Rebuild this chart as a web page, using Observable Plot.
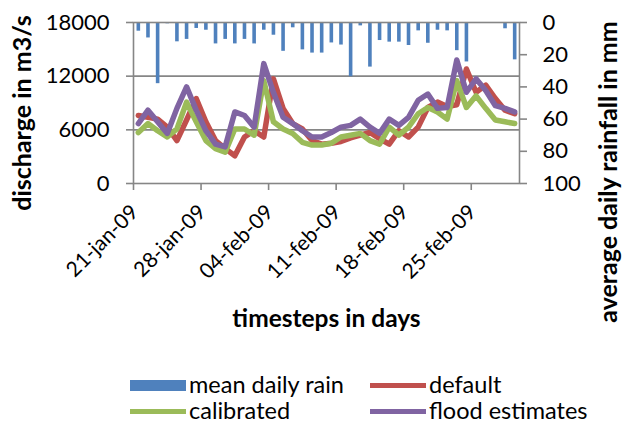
<!DOCTYPE html>
<html>
<head>
<meta charset="utf-8">
<script src="https://cdn.jsdelivr.net/npm/d3@7"></script>
<script src="https://cdn.jsdelivr.net/npm/@observablehq/plot@0.6"></script>
<style>
  html, body { margin: 0; padding: 0; background: white; }
  #wrap { width: 630px; position: relative; font-family: Lato, "Open Sans", sans-serif; }
  #legend { position: relative; width: 630px; height: 63px; font-size: 23.5px; color: #000; }
  .sw { position: absolute; }
  .lt { position: absolute; line-height: 22px; white-space: nowrap; }
</style>
</head>
<body>
<div id="wrap">
  <div id="chart"></div>
  <div id="legend"></div>
</div>
<script>
// ---- data ----
const startDay = "2009-01-21";
const endDay = "2009-03-02";
const rainMm = [5.4, 9.6, 38, 0.8, 12, 10.5, 3.7, 4.8, 13.3, 10.5,
                13.3, 10.5, 13.3, 4.8, 7.9, 17.9, 3.3, 17, 19, 19,
                12.7, 14, 33.7, 2.1, 27.7, 11.2, 12.2, 12.2, 14.3, 5.2,
                12.9, 4.8, 5.2, 17.5, 24.5, 0, 0, 0.4, 3.9, 23.2];
const defaultQ = [7600, 7400, 7200, 6300, 4800, 7100, 9500, 6900, 4800, 3900,
                  3100, 5200, 5900, 5200, 11700, 8400, 6700, 6100, 4800, 4400,
                  4500, 4700, 5100, 5400, 5700, 5000, 4400, 5900, 5200, 6300,
                  8500, 9100, 8600, 8800, 12800, 10200, 11000, 9500, 8200, 7800];
const calibratedQ = [5700, 6700, 5900, 5200, 6100, 9100, 6900, 4800, 3900, 3500,
                     6100, 6100, 5400, 11500, 6900, 6100, 5600, 4600, 4300, 4300,
                     4500, 5200, 5400, 5600, 4800, 4400, 6300, 5400, 6300, 7800,
                     8500, 8000, 7200, 11500, 8500, 9800, 8400, 7100, 6900, 6700];
const floodQ = [6700, 8200, 6900, 5600, 8400, 10800, 8200, 5900, 4400, 4100,
                8000, 7600, 6300, 13400, 10200, 7400, 6700, 5900, 5200, 5200,
                5700, 6300, 6500, 7200, 6300, 5600, 7200, 6500, 7400, 9300,
                10000, 8400, 8500, 13800, 10200, 11700, 10400, 8700, 8400, 8000];
const dischargeTicks = [0, 6000, 12000, 18000];
const rainTicks = [0, 20, 40, 60, 80, 100];
const dateTicks = ["2009-01-21", "2009-01-28", "2009-02-04", "2009-02-11", "2009-02-18", "2009-02-25"];
const dateTickLabels = ["21-jan-09", "28-jan-09", "04-feb-09", "11-feb-09", "18-feb-09", "25-feb-09"];
const seriesNames = ["mean daily rain", "default", "calibrated", "flood estimates"];
const seriesColors = ["#4F81BD", "#C0504D", "#9BBB59", "#8064A2"];

// ---- build table ----
const start = new Date(startDay + "T00:00:00Z");
const end = new Date(endDay + "T00:00:00Z");
const days = d3.utcDays(start, end);
const rows = days.map((d, i) => ({
  date: d3.utcHour.offset(d, 12),
  rain: rainMm[i],
  def: defaultQ[i],
  cal: calibratedQ[i],
  flood: floodQ[i]
}));
const qMax = 18000, rainMax = 100;
const rainToY = r => qMax - r * qMax / rainMax;
const tickDates = dateTicks.map(s => new Date(s + "T00:00:00Z"));
const gray = "#868686";

const chart = Plot.plot({
  width: 630,
  height: 360,
  marginTop: 22,
  marginBottom: 177,
  marginLeft: 133,
  marginRight: 111,
  style: { fontFamily: "Lato", fontSize: "22px", background: "white", overflow: "visible", color: "#000" },
  x: { type: "utc", domain: [start, end], axis: null },
  y: { domain: [0, qMax], axis: null },
  marks: [
    Plot.ruleY(dischargeTicks.slice(1, -1), { stroke: gray, strokeWidth: 1.6 }),
    Plot.ruleX(rows, { x: "date", y1: qMax, y2: d => rainToY(d.rain), stroke: seriesColors[0], strokeWidth: 3.6 }),
    Plot.lineY(rows, { x: "date", y: "def", stroke: seriesColors[1], strokeWidth: 5.5 }),
    Plot.lineY(rows, { x: "date", y: "cal", stroke: seriesColors[2], strokeWidth: 5.5 }),
    Plot.lineY(rows, { x: "date", y: "flood", stroke: seriesColors[3], strokeWidth: 5.5 }),
    Plot.frame({ stroke: gray, strokeWidth: 1.6 }),
    Plot.axisY({ anchor: "left", ticks: dischargeTicks, tickFormat: d3.format("d"), tickSize: 7, tickPadding: 17, stroke: gray, strokeWidth: 1.6, fontSize: 22, label: null }),
    Plot.axisY({ anchor: "right", ticks: rainTicks.map(rainToY), tickFormat: v => String(Math.round((qMax - v) * rainMax / qMax)),
                 tickSize: 7, tickPadding: 16, stroke: gray, strokeWidth: 1.6, fontSize: 22, label: null }),
    Plot.axisX({ anchor: "bottom", ticks: tickDates, tickFormat: () => "", tickSize: 7, stroke: gray, strokeWidth: 1.6, label: null }),
    Plot.text(tickDates, { x: d => d, text: (d, i) => dateTickLabels[i], frameAnchor: "bottom", rotate: -45, textAnchor: "end",
                           dx: 6, dy: 30, fontSize: 21, fontFamily: "Lato" }),
    Plot.text(["discharge in m3/s"], { text: d => d, frameAnchor: "left", textAnchor: "middle", rotate: -90, dx: -111, dy: 10, fontSize: 25, fontWeight: "bold" }),
    Plot.text(["average daily rainfall in mm"], { text: d => d, frameAnchor: "right", textAnchor: "middle", rotate: -90, dx: 89, dy: 69, fontSize: 25, fontWeight: "bold" }),
    Plot.text(["timesteps in days"], { text: d => d, frameAnchor: "bottom", textAnchor: "middle", dy: 143, fontSize: 24.5, fontWeight: "bold" })
  ]
});
document.getElementById("chart").appendChild(chart);

// ---- legend ----
const legend = document.getElementById("legend");
const legendItems = [
  { name: seriesNames[0], color: seriesColors[0], kind: "bar", col: 0, row: 0 },
  { name: seriesNames[1], color: seriesColors[1], kind: "line", col: 1, row: 0 },
  { name: seriesNames[2], color: seriesColors[2], kind: "line", col: 0, row: 1 },
  { name: seriesNames[3], color: seriesColors[3], kind: "line", col: 1, row: 1 }
];
const colX = [130, 370], rowY = [25, 51];
legendItems.forEach(it => {
  const sw = document.createElement("div");
  sw.className = "sw";
  const h = it.kind === "bar" ? 11 : 5;
  sw.style.left = colX[it.col] + "px";
  sw.style.width = "56px";
  sw.style.height = h + "px";
  sw.style.top = (rowY[it.row] - h / 2) + "px";
  sw.style.background = it.color;
  legend.appendChild(sw);
  const t = document.createElement("div");
  t.className = "lt";
  t.textContent = it.name;
  t.style.left = (colX[it.col] + 59) + "px";
  t.style.top = (rowY[it.row] - 12) + "px";
  legend.appendChild(t);
});
</script>
</body>
</html>
